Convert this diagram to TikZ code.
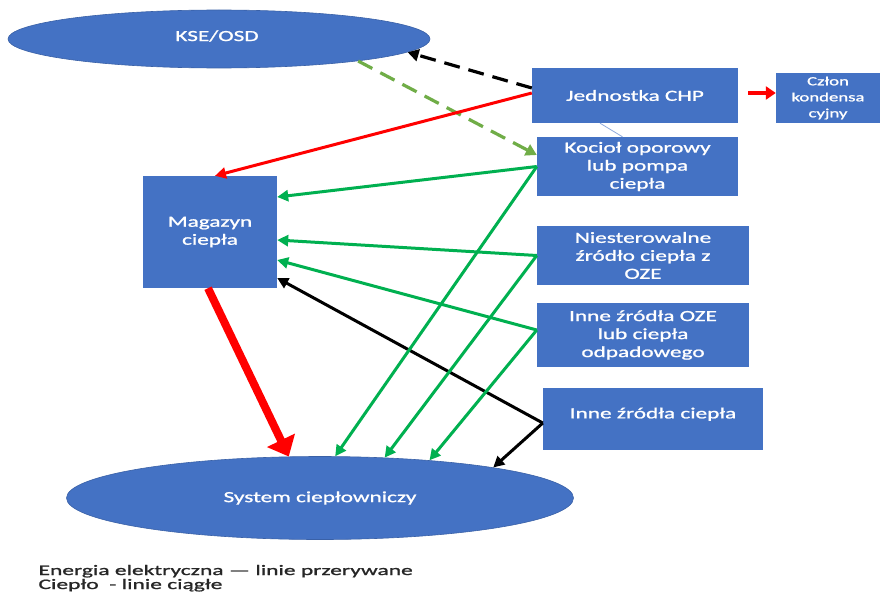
\documentclass[tikz,border=0pt]{standalone}
\usepackage{fontspec}
\setmainfont{Carlito}[FakeStretch=1.5,FakeBold=1.2]
\newfontfamily\legendfont{Carlito}[FakeStretch=1.62,FakeBold=1.2]
\usetikzlibrary{arrows.meta,shapes.geometric}
\definecolor{officeblue}{HTML}{4472C4}
\definecolor{heatgreen}{HTML}{00B050}
\definecolor{elgreen}{HTML}{70AD47}
\definecolor{thinblue}{HTML}{8FAADC}
\definecolor{legendgray}{HTML}{262626}
\begin{document}
\begin{tikzpicture}[x=1pt,y=-1pt,
  box/.style={rectangle, fill=officeblue, text=white, align=center, inner sep=2pt,
    font=\fontsize{15.5}{18}\selectfont},
  oval/.style={ellipse, fill=officeblue, draw=officeblue!85!black, line width=0.6pt,
    text=white, inner sep=0pt, font=\fontsize{15.5}{18}\selectfont},
  heat/.style={draw=heatgreen, line width=3pt, -{Triangle[length=11pt,width=11pt]}},
  heatblack/.style={draw=black, line width=3pt, -{Triangle[length=11pt,width=11pt]}},
  heatred/.style={draw=red, line width=3pt, -{Triangle[length=11pt,width=11pt]}},
  bigred/.style={draw=red, line width=8pt, -{Triangle[length=18pt,width=30pt]}},
  elec/.style={line width=3.2pt, dash pattern=on 16pt off 9pt, -{Triangle[length=11pt,width=12pt]}},
  legend/.style={anchor=base west, text=legendgray, font=\legendfont\fontsize{14.5}{14}\selectfont}
]
\useasboundingbox (0,0) rectangle (882,594);
\fill[white] (0,0) rectangle (882,594);

% nodes
\node[oval, minimum width=422pt, minimum height=58pt] (kse) at (219,39) {};
\node[text=white, font=\fontsize{15.5}{18}\selectfont] (kset) at (217,36) {KSE/OSD};
\node[box, minimum width=206pt, minimum height=55pt] (chp) at (635,95.5) {Jednostka CHP};
\node[box, minimum width=104pt, minimum height=50pt, font=\fontsize{12.5}{16}\selectfont] (kon) at (828,98) {Człon\\kondensa\\cyjny};
\node[box, minimum width=201pt, minimum height=59pt] (koc) at (637.5,166.5) {Kocioł oporowy\\lub pompa\\ciepła};
\node[box, minimum width=134pt, minimum height=112pt] (mag) at (210,232) {Magazyn\\ciepła};
\node[box, minimum width=212pt, minimum height=59pt] (nie) at (643,255.5) {Niesterowalne\\źródło ciepła z\\OZE};
\node[box, minimum width=212pt, minimum height=64pt] (oze) at (643,335) {Inne źródła OZE\\lub ciepła\\odpadowego};
\node[box, minimum width=220pt, minimum height=62pt] (inn) at (653,419) {Inne źródła ciepła\\[-6pt]};
\node[oval, minimum width=507pt, minimum height=83pt] (sys) at (320,498) {System ciepłowniczy};

% electricity (dashed)
\draw[elec, draw=black] ([yshift=7.5pt]chp.west) -- (kse.-4.4);
\draw[elec, draw=elgreen] (kse.-9.8) -- ([yshift=11.5pt]koc.west);
% thin connector
\draw[thinblue, line width=0.8pt] ([xshift=-35pt]chp.south) -- ([xshift=-15pt]koc.north);
% heat
\draw[heatred] ([yshift=2.5pt]chp.west) -- ([xshift=5pt]mag.north);
\draw[draw=red, line width=3.5pt, -{Triangle[length=10pt,width=13pt]}] ([xshift=10pt,yshift=2.5pt]chp.east) -- ([yshift=5pt]kon.west);
\draw[heat] (koc.west) -- ([yshift=35pt]mag.east);
\draw[heat] (nie.west) -- ([yshift=-8pt]mag.east);
\draw[heat] ([yshift=5pt]oze.west) -- ([yshift=-28pt]mag.east);
\draw[heatblack] ([yshift=-4pt]inn.west) -- ([yshift=-46pt]mag.east);
\draw[heat] (koc.west) -- (sys.70.3);
\draw[heat] (nie.west) -- (sys.32.9);
\draw[heat] ([yshift=5pt]oze.west) -- (sys.19.4);
\draw[heatblack] ([yshift=-4pt]inn.west) -- (sys.10.4);
\draw[bigred] ([xshift=-2pt]mag.south) -- (sys.127.5);

% legend
\node[legend] (leg1) at (35,575) {Energia elektryczna — linie przerywane};
\node[legend] (leg2) at (35,589) {Ciepło \ - linie ciągłe};
\end{tikzpicture}
\end{document}
